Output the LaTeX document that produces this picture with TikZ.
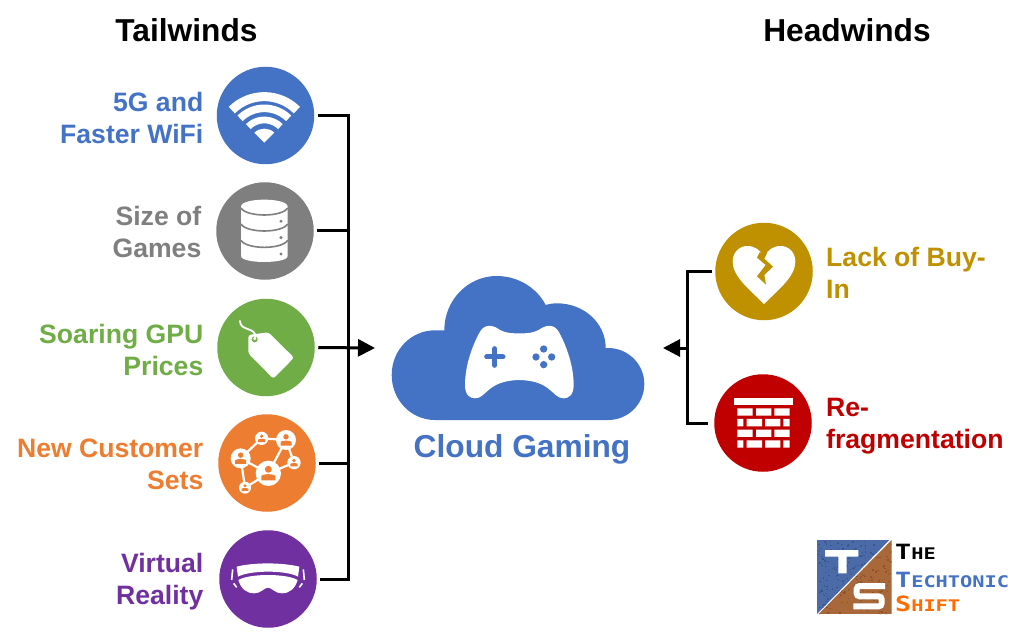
\documentclass[tikz,border=0pt]{standalone}
\usepackage{fontspec}
\usepackage{graphicx}
\usetikzlibrary{arrows.meta}
\setmainfont{Liberation Sans}
\newfontfamily\logofont{DejaVu Sans Mono}
\definecolor{cblue}{HTML}{4472C4}
\definecolor{cgray}{HTML}{7F7F7F}
\definecolor{cgreen}{HTML}{70AD47}
\definecolor{corange}{HTML}{ED7D31}
\definecolor{cpurple}{HTML}{7030A0}
\definecolor{cgold}{HTML}{BF9000}
\definecolor{cred}{HTML}{C00000}
\definecolor{slate}{HTML}{4A6BA8}
\definecolor{slatedark}{HTML}{2F4A7A}
\definecolor{rust}{HTML}{A9683A}
\definecolor{rustdark}{HTML}{7A4522}
\newcommand{\wifiband}[2]{%
  \draw[white,line width=#2pt] plot[smooth,domain=45:135,samples=17] ({163+#1*cos(\x)},{248-#1*sin(\x)});}
\newcommand{\member}[3]{%
  \fill[white] (#1,#2) circle[radius=#3];
  \fill[corange] (#1,#2-0.32*#3) circle[radius=0.27*#3];
  \fill[corange] (#1-0.55*#3,#2+0.55*#3) -- (#1-0.55*#3,#2+0.2*#3)
    .. controls (#1-0.45*#3,#2+0.02*#3) and (#1+0.45*#3,#2+0.02*#3) .. (#1+0.55*#3,#2+0.2*#3)
    -- (#1+0.55*#3,#2+0.55*#3) -- cycle;}
\tikzset{
  x=1pt,y=-1pt,
  disc/.style={circle,minimum size=97.5pt,inner sep=0pt,outer sep=3.5pt},
  wire/.style={draw=black,line width=3pt,line join=miter},
  pointer/.style={-{Triangle[length=17pt,width=17pt]}},
  heading/.style={font=\fontsize{31.7}{36}\selectfont\bfseries,text=black,inner sep=0pt},
  lefttext/.style={font=\fontsize{26.6}{32}\selectfont\bfseries,align=right,anchor=east,inner sep=0pt},
  righttext/.style={font=\fontsize{26.6}{32}\selectfont\bfseries,align=left,anchor=west,inner sep=0pt},
  logotext/.style={anchor=west,inner sep=0pt},
  hub/.style={minimum width=288pt,minimum height=150pt,inner sep=0pt,outer sep=0pt},
}
\begin{document}
\begin{tikzpicture}
\useasboundingbox (0,0) rectangle (1022,636);
\fill[white] (0,0) rectangle (1022,636);

% column headings
\node[heading] (tail) at (186.5,30.5) {Tailwinds};
\node[heading] (head) at (847,30) {Headwinds};

% factor discs
\node[disc,fill=cblue] (wifi) at (265.5,115.5) {};
\node[disc,fill=cgray] (db) at (265,231) {};
\node[disc,fill=cgreen] (tag) at (266,347.5) {};
\node[disc,fill=corange] (net) at (267,463) {};
\node[disc,fill=cpurple] (vr) at (268,579) {};
\node[disc,fill=cgold] (buyin) at (764,271.5) {};
\node[disc,fill=cred] (wall) at (763,423) {};

% factor labels
\node[lefttext,text=cblue] (lwifi) at (203.5,118) {5G and\\Faster WiFi};
\node[lefttext,text=cgray] (ldb) at (201.5,232) {Size of\\Games};
\node[lefttext,text=cgreen] (ltag) at (203.5,350) {Soaring GPU\\Prices};
\node[lefttext,text=corange] (lnet) at (203.5,464) {New Customer\\Sets};
\node[lefttext,text=cpurple] (lvr) at (203.5,582) {Virtual\\Reality};
\node[righttext,text=cgold] (lbuyin) at (826,273) {Lack of Buy-\\In};
\node[righttext,text=cred] (lwall) at (826,426) {Re-\\fragmentation};

% central cloud
\node[hub] (cloud) at (519,348) {};
\fill[cblue] (435,420) .. controls (411,420) and (391.7,400) .. (391.7,375)
  .. controls (391.7,350) and (411,330.3) .. (435,330.3) -- (444.3,330.3)
  .. controls (444.3,300) and (468,276) .. (496.7,276)
  .. controls (518,276) and (537,288) .. (545.7,305)
  .. controls (549,304) and (553,303.3) .. (556.7,303.3)
  .. controls (584,303.3) and (605.7,323) .. (605.7,348) -- (608,348)
  .. controls (628,348) and (644.3,364) .. (644.3,384)
  .. controls (644.3,404) and (628,420) .. (608.3,420) -- cycle;
\node[heading,text=cblue] (ltitle) at (522,449) {Cloud Gaming};

% game controller on the cloud
\begin{scope}[shift={(385,270)},scale=0.33333]
  \fill[white] (403,190) .. controls (380,190) and (365,190) .. (345,180)
    .. controls (325,165) and (300,160) .. (285,185)
    .. controls (260,230) and (240,290) .. (240,345)
    .. controls (240,375) and (255,385) .. (270,385)
    .. controls (305,385) and (305,332) .. (403,330)
    .. controls (501,332) and (501,385) .. (536,385)
    .. controls (551,385) and (566,375) .. (566,345)
    .. controls (566,290) and (546,230) .. (521,185)
    .. controls (506,160) and (481,165) .. (461,180)
    .. controls (441,190) and (426,190) .. (403,190) -- cycle;
  \draw[cblue,line width=5pt,line cap=round] (305,261) -- (354,261) (329,236) -- (329,286);
  \fill[cblue] (476,237) circle[radius=11] (476,284) circle[radius=11]
    (453,261) circle[radius=11] (500,261) circle[radius=11];
\end{scope}

% wifi symbol
\begin{scope}[shift={(210,60)},scale=0.33333]
  \wifiband{138}{9}
  \wifiband{103}{7.6}
  \wifiband{68}{6.8}
  \fill[white] (163,248) -- (133,218) .. controls (150,202) and (176,202) .. (193,218) -- cycle;
\end{scope}

% database symbol
\begin{scope}[shift={(210,60)},scale=0.33333]
  \fill[white] (93,440) .. controls (93,412) and (233,412) .. (233,440)
    -- (233,588) .. controls (233,612) and (93,612) .. (93,588) -- cycle;
  \draw[cgray,line width=1.6pt] (93,444) .. controls (110,472) and (216,472) .. (233,444)
    (93,492) .. controls (110,520) and (216,520) .. (233,492)
    (93,541) .. controls (110,569) and (216,569) .. (233,541);
  \fill[cgray] (213,484) circle[radius=5] (213,533) circle[radius=5] (213,582) circle[radius=5];
\end{scope}

% price tag symbol
\begin{scope}[shift={(210,290)},scale=0.33333]
  \fill[white,rounded corners=2.5pt] (115,135) -- (175,127) -- (252,203) -- (190,266) -- (115,190) -- cycle;
  \fill[cgreen] (134,148) circle[radius=9];
  \fill[white] (134,146) circle[radius=5];
  \draw[white,line width=1.8pt,line cap=round] (136,143) .. controls (140,110) and (90,125) .. (90,93);
\end{scope}

% people network symbol
\begin{scope}[shift={(210,290)},scale=0.33333]
  \draw[white,line width=2.2pt] (92,505) -- (155,445) -- (228,450) -- (175,550) -- (92,505) -- (105,593) -- (175,550) -- (252,518) -- (228,450);
  \member{175}{550}{38}
  \member{92}{505}{30}
  \member{228}{450}{30}
  \member{155}{445}{20}
  \member{252}{518}{20}
  \member{105}{593}{18}
\end{scope}

% headset symbol
\begin{scope}[shift={(210,290)},scale=0.33333]
  \fill[white] (80,830) .. controls (130,817) and (215,817) .. (268,830)
    -- (264,860) .. controls (230,840) and (120,840) .. (84,860) -- cycle;
  \fill[white] (85,870) .. controls (120,850) and (228,850) .. (263,870)
    .. controls (255,895) and (240,910) .. (215,910)
    .. controls (195,910) and (185,893) .. (174,893)
    .. controls (163,893) and (153,910) .. (133,910)
    .. controls (108,910) and (93,895) .. (85,870) -- cycle;
  \draw[white,line width=1.6pt] (68,838) -- (65,870) (71,880) -- (80,892)
    (280,838) -- (283,870) (277,880) -- (268,892);
\end{scope}

% broken heart symbol
\begin{scope}[shift={(660,215)},scale=0.33333]
  \fill[white] (312,267) .. controls (270,225) and (218,185) .. (218,140)
    .. controls (218,110) and (240,93) .. (262,93)
    .. controls (285,93) and (300,105) .. (312,125)
    .. controls (324,105) and (339,93) .. (362,93)
    .. controls (384,93) and (406,110) .. (406,140)
    .. controls (406,185) and (354,225) .. (312,267) -- cycle;
  \fill[cgold] (299,112) -- (291,128) -- (317,150) -- (291,184) -- (318,209)
    -- (313,180) -- (339,155) -- (313,131) -- (322,112) -- cycle;
\end{scope}

% brick wall symbol
\begin{scope}[shift={(660,215)},scale=0.33333]
  \fill[white] (222,548) rectangle (398,570);
  \foreach \row in {580,644} {
    \fill[white] (232,\row) rectangle (278,\row+22)
      (288,\row) rectangle (334,\row+22)
      (343,\row) rectangle (389,\row+22);
  }
  \foreach \row in {612,676} {
    \fill[white] (232,\row) rectangle (250,\row+22)
      (260,\row) rectangle (306,\row+22)
      (315,\row) rectangle (361,\row+22)
      (370,\row) rectangle (389,\row+22);
  }
\end{scope}

% connectors on the left
\coordinate (busL) at (348,579);
\draw[wire] (wifi.east) -| (busL) -- (vr.east);
\draw[wire] (db.east) -- (db.east -| busL);
\draw[wire] (net.east) -- (net.east -| busL);
\draw[wire,pointer] (tag.east) -- (cloud.west);

% connectors on the right
\coordinate (busR) at (687,423);
\draw[wire,shorten >=3pt] (buyin.west) -| (busR) -- (wall.west);
\draw[wire,pointer] (busR |- cloud.east) -- (cloud.east);

% logo block
\begin{scope}[shift={(810,535)},scale=0.33333]
  \begin{scope}
    \clip (20,15) -- (238,15) -- (20,238) -- cycle;
    \fill[slate] (20,15) rectangle (245,238);
    \pgfmathsetseed{7}
    \foreach \i in {1,...,220} {
      \pgfmathsetmacro{\px}{20+rnd*220}
      \pgfmathsetmacro{\py}{15+rnd*220}
      \fill[slatedark,opacity=0.55] (\px,\py) rectangle (\px+5,\py+4);
    }
  \end{scope}
  \begin{scope}
    \clip (245,15) -- (245,238) -- (25,238) -- cycle;
    \fill[rust] (20,15) rectangle (245,238);
    \pgfmathsetseed{11}
    \foreach \i in {1,...,220} {
      \pgfmathsetmacro{\px}{25+rnd*220}
      \pgfmathsetmacro{\py}{15+rnd*223}
      \fill[rustdark,opacity=0.55] (\px,\py) rectangle (\px+5,\py+4);
    }
  \end{scope}
  \fill[white] (45,45) rectangle (145,65) (85,65) rectangle (110,115);
  \draw[white,line width=6pt,line cap=butt,rounded corners=3pt]
    (225,153) -- (140,153) -- (140,184) -- (215,184) -- (215,214) -- (130,214);
\end{scope}
\node[logotext,text=black] (logoa) at (895,552) {\scalebox{1.27}[1]{\logofont\bfseries\fontsize{21}{21}\selectfont T\fontsize{16}{16}\selectfont HE}};
\node[logotext,text=cblue] (logob) at (895,580) {\scalebox{1.27}[1]{\logofont\bfseries\fontsize{21}{21}\selectfont T\fontsize{16}{16}\selectfont ECHTONIC}};
\node[logotext,text=orange!85!red] (logoc) at (895,604) {\scalebox{1.27}[1]{\logofont\bfseries\fontsize{21}{21}\selectfont S\fontsize{16}{16}\selectfont HIFT}};
\end{tikzpicture}
\end{document}
